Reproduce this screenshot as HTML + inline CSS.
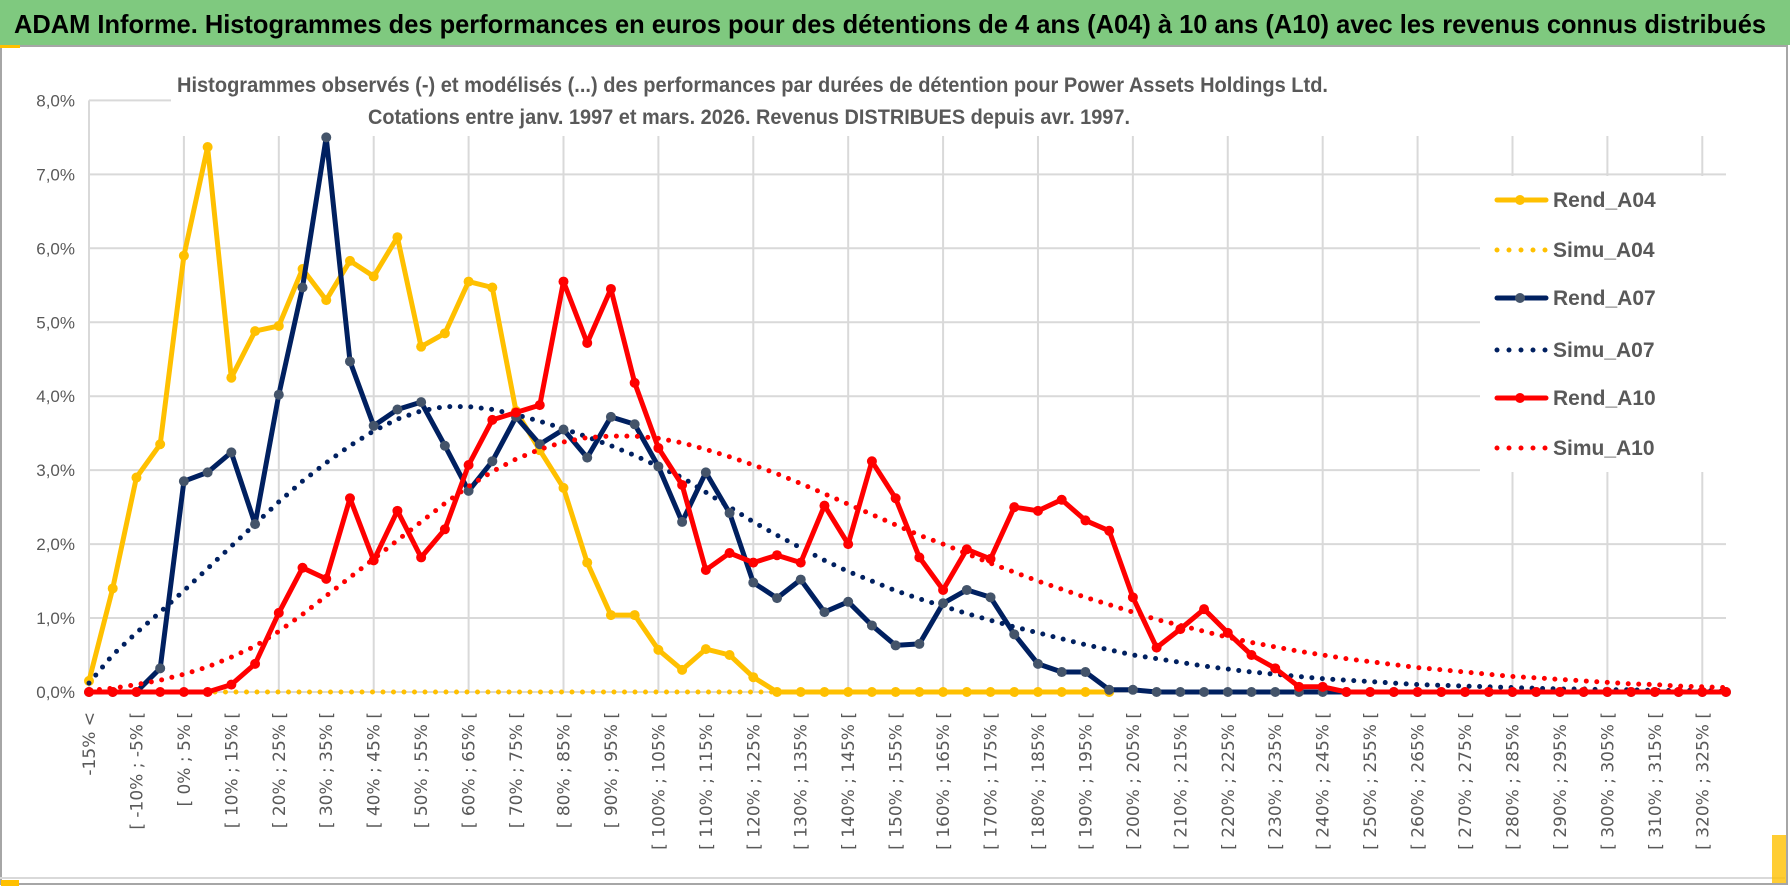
<!DOCTYPE html>
<html><head><meta charset="utf-8">
<style>
html,body{margin:0;padding:0;background:#fff;}
svg{display:block;}
.nar{font-family:"Liberation Sans Narrow","Liberation Sans",sans-serif;}
</style></head>
<body>
<svg id="chart" width="1790" height="888" viewBox="0 0 1790 888" xmlns="http://www.w3.org/2000/svg">
  <rect x="0" y="0" width="1790" height="888" fill="#fff"/>
  <rect x="1" y="46" width="1786" height="838" fill="#fff" stroke="#a6a6a6" stroke-width="2"/>
  <rect x="0" y="0" width="1790" height="45" fill="#7fc97f"/>
  <rect x="0" y="45" width="20" height="3" fill="#ffc000"/>
  <text x="14" y="33" class="nar" font-size="26" font-weight="bold" fill="#000" textLength="1752" lengthAdjust="spacingAndGlyphs">ADAM Informe. Histogrammes des performances en euros pour des détentions de 4 ans (A04) à 10 ans (A10) avec les revenus connus distribués</text>
  <line x1="0" y1="878" x2="1785" y2="878" stroke="#d9d9d9" stroke-width="2"/>
  <rect x="1" y="880" width="18" height="6" fill="#ffc000"/>
  <rect x="1772" y="835" width="14" height="48" fill="#ffc000" opacity="0.8"/>
  <g id="grid"></g>
  <rect x="171" y="60" width="1160" height="76" fill="#fff"/>
  <g id="series"></g>
  <g id="yaxis"></g>
  <g id="xaxis"></g>
  <text x="177" y="92" class="nar" font-size="21" font-weight="bold" fill="#595959" textLength="1151" lengthAdjust="spacingAndGlyphs">Histogrammes observés (-) et modélisés (...) des performances par durées de détention pour Power Assets Holdings Ltd.</text>
  <text x="368" y="124" class="nar" font-size="21" font-weight="bold" fill="#595959" textLength="762" lengthAdjust="spacingAndGlyphs">Cotations entre janv. 1997 et mars. 2026. Revenus DISTRIBUES depuis avr. 1997.</text>
  <rect x="1480" y="176" width="247" height="296" fill="#fff"/>
  <g id="legend"></g>
</svg>
<script>
const categories = (function(){ const c=["-15% <"]; for(let i=1;i<70;i++){const lo=(i-4)*5; c.push("[ "+lo+"% ; "+(lo+5)+"% [");} return c; })();
const yTicks = [0,1,2,3,4,5,6,7,8];
const yTickLabels = ["0,0%","1,0%","2,0%","3,0%","4,0%","5,0%","6,0%","7,0%","8,0%"];
const rendA04 = [0.15,1.4,2.9,3.35,5.9,7.37,4.25,4.88,4.95,5.72,5.3,5.83,5.62,6.15,4.67,4.85,5.55,5.47,3.8,3.27,2.76,1.75,1.04,1.04,0.57,0.3,0.58,0.5,0.2,0,0,0,0,0,0,0,0,0,0,0,0,0,0,0];
const simuA04 = [0,0,0,0,0,0,0,0,0,0,0,0,0,0,0,0,0,0,0,0,0,0,0,0,0,0,0,0,0,0,0,0,0,0,0,0,0,0,0,0,0,0,0,0];
const rendA07 = [0,0,0,0.32,2.85,2.97,3.24,2.27,4.02,5.47,7.5,4.47,3.6,3.82,3.92,3.33,2.72,3.12,3.72,3.35,3.55,3.17,3.72,3.62,3.05,2.3,2.97,2.42,1.48,1.27,1.52,1.08,1.22,0.9,0.63,0.65,1.2,1.38,1.28,0.78,0.38,0.27,0.27,0.03,0.03,0,0,0,0,0,0,0,0,0,0,0,0,0,0,0,0,0,0,0,0,0,0,0,0,0];
const simuA07 = [0.12,0.5,0.8,1.08,1.37,1.67,1.97,2.27,2.57,2.85,3.1,3.33,3.53,3.69,3.8,3.86,3.86,3.82,3.75,3.66,3.56,3.45,3.33,3.2,3.05,2.9,2.7,2.5,2.3,2.12,1.95,1.78,1.63,1.5,1.37,1.26,1.16,1.06,0.97,0.88,0.8,0.72,0.64,0.57,0.5,0.45,0.4,0.35,0.31,0.27,0.24,0.21,0.18,0.16,0.14,0.12,0.1,0.09,0.08,0.07,0.06,0.05,0.04,0.04,0.03,0.03,0.02,0.02,0.02,0.01];
const rendA10 = [0,0,0,0,0,0,0.1,0.38,1.07,1.68,1.53,2.62,1.78,2.45,1.82,2.2,3.07,3.68,3.78,3.88,5.55,4.72,5.45,4.18,3.3,2.8,1.65,1.88,1.75,1.85,1.75,2.52,2.0,3.12,2.62,1.82,1.38,1.93,1.8,2.5,2.45,2.6,2.32,2.18,1.28,0.6,0.85,1.12,0.8,0.5,0.32,0.07,0.07,0,0,0,0,0,0,0,0,0,0,0,0,0,0,0,0,0];
const simuA10 = [0.02,0.05,0.1,0.16,0.24,0.34,0.47,0.62,0.82,1.05,1.3,1.55,1.8,2.05,2.3,2.55,2.78,2.98,3.15,3.28,3.38,3.44,3.46,3.46,3.43,3.37,3.28,3.18,3.07,2.95,2.82,2.68,2.54,2.4,2.26,2.12,2.0,1.87,1.74,1.62,1.5,1.39,1.28,1.18,1.08,0.98,0.9,0.82,0.74,0.67,0.61,0.55,0.5,0.45,0.41,0.37,0.33,0.3,0.27,0.24,0.21,0.19,0.17,0.15,0.13,0.11,0.1,0.08,0.07,0.06];

const NS="http://www.w3.org/2000/svg";
const X0=89, X1=1726, Y0=692, YPER=73.95;
function xScale(i){ return X0 + i*(X1-X0)/(categories.length-1); }
function yScale(v){ return Y0 - v*YPER; }
function mk(tag, attrs, parent){ const e=document.createElementNS(NS,tag); for(const k in attrs) e.setAttribute(k, attrs[k]); parent.appendChild(e); return e; }

const grid=document.getElementById('grid');
yTicks.forEach(function(t){
  const y=yScale(t);
  const x2 = t===8 ? 171 : X1;
  const l=mk('line',{x1:X0,y1:y,x2:x2,y2:y,stroke:'#d9d9d9','stroke-width':2},grid);
  
  
});
for(let i=0;i<categories.length;i+=4){
  const x=xScale(i);
  const top = i===0 ? yScale(8) : 136;
  const l=mk('line',{x1:x,y1:top,x2:x,y2:Y0,stroke:'#d9d9d9','stroke-width':2},grid);
  
  
}

const yaxis=document.getElementById('yaxis');
yTicks.forEach(function(t,k){
  const tx=mk('text',{x:75,y:yScale(t)+6,'text-anchor':'end','font-size':17,fill:'#595959','class':'nar'},yaxis);
  tx.textContent=yTickLabels[k];
  
  
});

const xaxis=document.getElementById('xaxis');
for(let i=0;i<categories.length;i+=2){
  const x=xScale(i)+6, y=712;
  const tx=mk('text',{x:x,y:y,transform:'rotate(-90 '+x+' '+y+')','text-anchor':'end','font-size':17,fill:'#595959','font-family':'"DejaVu Sans",sans-serif'},xaxis);
  tx.textContent=categories[i];
  
  
}

const seriesG=document.getElementById('series');
function path(vals){ return vals.map(function(v,i){return (i?'L':'M')+xScale(i).toFixed(1)+' '+yScale(v).toFixed(1);}).join(' '); }
function dotted(vals,color,name){
  const p=mk('path',{d:path(vals),fill:'none',stroke:color,'stroke-width':5,'stroke-linecap':'round','stroke-dasharray':'0 10.5'},seriesG);
  
  
}
function solid(vals,color,mcolor,name){
  const g=mk('g',{},seriesG);
  
  
  const p=mk('path',{d:path(vals),fill:'none',stroke:color,'stroke-width':5,'stroke-linejoin':'round'},g);
  
  
  vals.forEach(function(v,i){
    const c=mk('circle',{cx:xScale(i),cy:yScale(v),r:5,fill:mcolor},g);
    
    
  });
}
dotted(simuA04,'#ffc000','simu-a04');
solid(rendA04,'#ffc000','#ffc000','rend-a04');
dotted(simuA07,'#002060','simu-a07');
solid(rendA07,'#002060','#44546a','rend-a07');
dotted(simuA10,'#ff0000','simu-a10');
solid(rendA10,'#ff0000','#ff0000','rend-a10');

const legend=document.getElementById('legend');
const legItems=[["Rend_A04","#ffc000","#ffc000",false],["Simu_A04","#ffc000","",true],["Rend_A07","#002060","#44546a",false],["Simu_A07","#002060","",true],["Rend_A10","#ff0000","#ff0000",false],["Simu_A10","#ff0000","",true]];
const legY=[200,250,298,350,398,448];
legItems.forEach(function(it,k){
  const y=legY[k];
  const g=mk('g',{},legend);
  
  
  if(it[3]){
    mk('line',{x1:1497,y1:y,x2:1547,y2:y,stroke:it[1],'stroke-width':5,'stroke-linecap':'round','stroke-dasharray':'0 12'},g);
  } else {
    mk('line',{x1:1497,y1:y,x2:1546,y2:y,stroke:it[1],'stroke-width':5,'stroke-linecap':'round'},g);
    mk('circle',{cx:1520,cy:y,r:5,fill:it[2]},g);
  }
  const t=mk('text',{x:1553,y:y+7,'font-size':21,'font-weight':'bold',fill:'#595959','class':'nar'},g);
  t.textContent=it[0];
});
</script>
</body></html>
